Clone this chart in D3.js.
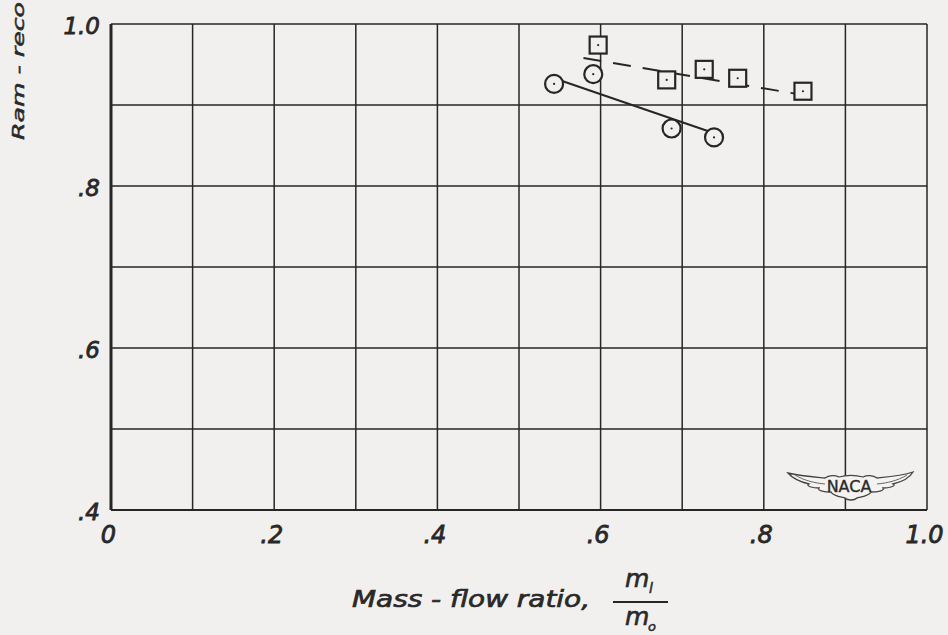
<!DOCTYPE html>
<html><head><meta charset="utf-8">
<script src="https://cdn.jsdelivr.net/npm/d3@7"></script>
<style>
html,body{margin:0;padding:0;background:#f2f0ee;}
svg{display:block;}
text{font-family:"DejaVu Sans",sans-serif;font-style:oblique;fill:#2a2a2a;}
text.upright{font-style:normal;}
</style></head>
<body>
<svg id="c" width="948" height="635"></svg>
<script>
// Data
const xTicks = [0, 0.2, 0.4, 0.6, 0.8, 1.0];
const xTickLabels = ["0", ".2", ".4", ".6", ".8", "1.0"];
const yTicks = [0.4, 0.6, 0.8, 1.0];
const yTickLabels = [".4", ".6", ".8", "1.0"];
const gridX = [0,0.1,0.2,0.3,0.4,0.5,0.6,0.7,0.8,0.9,1.0];
const gridY = [0.4,0.5,0.6,0.7,0.8,0.9,1.0];

const squareX = [0.597, 0.681, 0.727, 0.768, 0.848];
const squareY = [0.974, 0.931, 0.944, 0.933, 0.917];
const circleX = [0.543, 0.591, 0.687, 0.739];
const circleY = [0.926, 0.938, 0.871, 0.860];
const dashedFairX = [0.579, 0.868];
const dashedFairY = [0.958, 0.909];
const solidFairX = [0.552, 0.734];
const solidFairY = [0.930, 0.867];

const bg = "#f2f0ee";
const ink = "#262626";
const svg = d3.select("#c");
const x = d3.scaleLinear().domain([0, 1.0]).range([111, 927]);
const y = d3.scaleLinear().domain([0.4, 1.0]).range([510, 24]);

// grid
const g = svg.append("g");
g.selectAll("line.vx").data(gridX).join("line")
  .attr("x1", d => x(d)).attr("x2", d => x(d))
  .attr("y1", y(0.4)).attr("y2", y(1.0))
  .attr("stroke", ink).attr("stroke-width", d => d === 0 ? 3 : 1.5);
g.selectAll("line.hy").data(gridY).join("line")
  .attr("y1", d => y(d)).attr("y2", d => y(d))
  .attr("x1", x(0)).attr("x2", x(1.0))
  .attr("stroke", ink).attr("stroke-width", d => d === 0.4 ? 2 : 1.5);

// tick labels via axes (domain and tick marks hidden)
const xAxis = d3.axisBottom(x).tickValues(xTicks).tickSize(0)
  .tickFormat((d, i) => xTickLabels[i]);
const xa = svg.append("g").attr("transform", `translate(0,${y(0.4)})`).call(xAxis);
xa.select(".domain").remove();
xa.selectAll("text").attr("font-size", 24).attr("fill", ink)
  .attr("font-family", "DejaVu Sans").attr("font-style", "oblique")
  .attr("stroke", ink).attr("stroke-width", 0.8)
  .attr("y", 33).attr("dy", 0).attr("dx", -3);

const yAxis = d3.axisLeft(y).tickValues(yTicks).tickSize(0)
  .tickFormat((d, i) => yTickLabels[i]);
const ya = svg.append("g").attr("transform", `translate(${x(0) - 11},0)`).call(yAxis);
ya.select(".domain").remove();
ya.selectAll("text").attr("font-size", 23).attr("fill", ink)
  .attr("font-family", "DejaVu Sans").attr("font-style", "oblique")
  .attr("stroke", ink).attr("stroke-width", 0.8)
  .attr("x", 0).attr("dy", "0.4em");

// fairing lines
const lineGen = d3.line().x(d => x(d[0])).y(d => y(d[1]));
svg.append("path").datum(dashedFairX.map((v, i) => [v, dashedFairY[i]]))
  .attr("d", lineGen).attr("fill", "none").attr("stroke", ink)
  .attr("stroke-width", 2).attr("stroke-dasharray", "18,12");
svg.append("path").datum(solidFairX.map((v, i) => [v, solidFairY[i]]))
  .attr("d", lineGen).attr("fill", "none").attr("stroke", ink)
  .attr("stroke-width", 2);

// markers
const sq = svg.selectAll("g.sq").data(squareX.map((v, i) => [v, squareY[i]])).join("g")
  .attr("transform", d => `translate(${x(d[0])},${y(d[1])})`);
sq.append("rect").attr("x", -8.5).attr("y", -8.5).attr("width", 17).attr("height", 17)
  .attr("fill", bg).attr("stroke", ink).attr("stroke-width", 2.2);
sq.append("circle").attr("r", 1.1).attr("fill", ink);

const ci = svg.selectAll("g.ci").data(circleX.map((v, i) => [v, circleY[i]])).join("g")
  .attr("transform", d => `translate(${x(d[0])},${y(d[1])})`);
ci.append("circle").attr("r", 9)
  .attr("fill", bg).attr("stroke", ink).attr("stroke-width", 2.2);
ci.append("circle").attr("r", 1.1).attr("fill", ink);

// y-axis title (cut by top edge in reference)
svg.append("text").attr("transform", "translate(24,140) rotate(-90)")
  .attr("font-size", 16).attr("text-anchor", "start")
  .attr("stroke", ink).attr("stroke-width", 0.5)
  .attr("textLength", 138).attr("lengthAdjust", "spacingAndGlyphs")
  .text("Ram - reco");

// x-axis title
svg.append("text").attr("x", 352).attr("y", 607).attr("font-size", 23)
  .attr("stroke", ink).attr("stroke-width", 0.7)
  .attr("textLength", 238).attr("lengthAdjust", "spacingAndGlyphs")
  .text("Mass - flow  ratio,");
svg.append("text").attr("x", 625).attr("y", 587).attr("font-size", 25)
  .attr("stroke", ink).attr("stroke-width", 0.6).text("m");
svg.append("text").attr("x", 649).attr("y", 593).attr("font-size", 14)
  .attr("stroke", ink).attr("stroke-width", 0.5).text("l");
svg.append("line").attr("x1", 613).attr("x2", 668).attr("y1", 602).attr("y2", 602)
  .attr("stroke", ink).attr("stroke-width", 2.2);
svg.append("text").attr("x", 625).attr("y", 625).attr("font-size", 25)
  .attr("stroke", ink).attr("stroke-width", 0.6).text("m");
svg.append("text").attr("x", 648).attr("y", 631).attr("font-size", 13)
  .attr("stroke", ink).attr("stroke-width", 0.5).text("o");

// NACA logo
const logo = svg.append("g").attr("transform", "translate(851,487)");
logo.append("path")
  .attr("d", "M-63,-14 C-50,-11 -36,-10 -26,-9 C-22,-12 -16,-12 -12,-10 C-5,-12 5,-12 12,-10 C16,-12 22,-12 26,-9 C36,-10 50,-11 62,-15 C58,-8 50,-5 42,-3 C46,-1 38,1 32,1 C34,4 26,5 20,5 C18,9 10,10 6,11 C4,13 1,13 0,13 C-1,13 -4,13 -6,11 C-10,10 -18,9 -20,5 C-26,5 -34,4 -32,1 C-38,1 -46,-1 -42,-3 C-50,-5 -58,-8 -63,-14 Z")
  .attr("fill", "#f5f3f1").attr("stroke", "#444").attr("stroke-width", 1.3);
logo.append("path")
  .attr("d", "M-56,-12 C-46,-6 -36,-4 -26,-3 M56,-12 C46,-6 36,-4 26,-3")
  .attr("fill", "none").attr("stroke", "#555").attr("stroke-width", 0.9);
logo.append("text").attr("class", "upright").attr("x", -2).attr("y", 5)
  .attr("text-anchor", "middle")
  .attr("font-size", 16)
  .attr("stroke", "#333").attr("stroke-width", 0.4)
  .attr("fill", "#333").text("NACA");
</script>
</body></html>
